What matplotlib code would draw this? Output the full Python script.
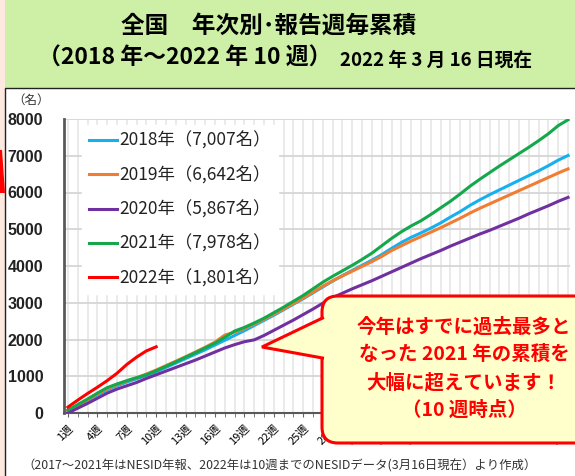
import matplotlib
matplotlib.use("Agg")
import matplotlib.pyplot as plt
from matplotlib.patches import Rectangle, FancyBboxPatch, Polygon

plt.rcParams['font.family'] = ['Noto Sans CJK JP', 'DejaVu Sans']

# weekly cumulative counts
weeks = list(range(1, 53))
y2018 = [50, 190, 340, 490, 630, 740, 840, 930, 1020, 1120,
         1240, 1360, 1480, 1600, 1720, 1850, 1980, 2110, 2240, 2380,
         2520, 2660, 2810, 2960, 3110, 3270, 3430, 3590, 3740, 3880,
         4020, 4160, 4310, 4480, 4640, 4780, 4900, 5030, 5170, 5330,
         5480, 5650, 5800, 5940, 6070, 6200, 6330, 6460, 6590, 6730,
         6880, 7007]
y2019 = [60, 210, 360, 520, 660, 770, 870, 960, 1060, 1170,
         1290, 1410, 1530, 1660, 1790, 1930, 2120, 2200, 2300, 2420,
         2550, 2690, 2830, 2980, 3130, 3290, 3450, 3600, 3730, 3860,
         3990, 4120, 4260, 4420, 4550, 4680, 4800, 4920, 5040, 5170,
         5300, 5440, 5570, 5690, 5810, 5930, 6050, 6170, 6290, 6410,
         6530, 6642]
y2020 = [0, 130, 260, 400, 540, 650, 740, 830, 940, 1040,
         1140, 1240, 1340, 1440, 1550, 1660, 1770, 1860, 1940, 1990,
         2110, 2250, 2390, 2530, 2680, 2830, 2990, 3140, 3260, 3380,
         3490, 3600, 3720, 3840, 3960, 4080, 4200, 4310, 4420, 4540,
         4650, 4760, 4870, 4970, 5080, 5190, 5300, 5420, 5530, 5640,
         5760, 5867]
y2021 = [80, 230, 380, 540, 690, 790, 880, 960, 1040, 1150,
         1270, 1390, 1520, 1640, 1770, 1900, 2060, 2230, 2330, 2450,
         2580, 2730, 2880, 3040, 3200, 3380, 3560, 3720, 3870, 4020,
         4180, 4350, 4550, 4750, 4930, 5090, 5230, 5400, 5580, 5760,
         5960, 6170, 6360, 6540, 6720, 6890, 7060, 7230, 7410, 7600,
         7820, 7978]
y2022 = [160, 350, 530, 700, 880, 1080, 1320, 1520, 1690, 1801]

labels = ['2018年（7,007名）', '2019年（6,642名）', '2020年（5,867名）',
          '2021年（7,978名）', '2022年（1,801名）']
colors = ['#17b0ef', '#f07d32', '#7030a0', '#14a84b', '#ff0000']
xtick_weeks = list(range(1, 53, 3))

W, H = 575, 476
fig = plt.figure(figsize=(W / 100, H / 100), dpi=100)
fig.patch.set_facecolor('#fde9df')

# background panels (pixel coords)
bg = fig.add_axes([0, 0, 1, 1], zorder=0)
bg.set_xlim(0, W)
bg.set_ylim(H, 0)
bg.axis('off')
bg.add_patch(Rectangle((5, 0), W - 5, 88, facecolor='#cdf0a6', edgecolor='none'))
bg.add_patch(Rectangle((5, 88), W, H, facecolor='white', edgecolor='#222222', lw=1))
bg.add_patch(Polygon([(0, 150), (2, 150), (5, 193), (0, 193)], facecolor='#ff0000', edgecolor='none'))

bg.text(269, 26, '全国　年次別･報告週毎累積', fontsize=17, fontweight='bold',
        ha='center', va='center')
bg.text(38, 58, '（2018 年～2022 年 10 週）', fontsize=16.5, fontweight='bold',
        ha='left', va='center')
bg.text(340, 60, '2022 年 3 月 16 日現在', fontsize=13.5, fontweight='bold',
        ha='left', va='center')
bg.text(31, 100, '（名）', fontsize=9, ha='center', va='center', color='#333333')

# chart
ax = fig.add_axes([64 / W, 1 - 413 / H, 506 / W, 294 / H], zorder=1)
ax.set_facecolor('none')
ax.set_xlim(0.6, 52.2)
ax.set_ylim(0, 8000)
for wk in weeks:
    ax.axvline(wk, color='#e6e6e6', lw=1.2, zorder=0)
for v in range(1000, 8001, 1000):
    ax.axhline(v, color='#d6d6d6', lw=1.3, zorder=0)

series = [y2018, y2019, y2020, y2021]
for vals, lab, col in zip(series, labels[:4], colors[:4]):
    ax.plot(weeks, vals, color=col, lw=2.2, label=lab, zorder=3)
ax.plot(weeks[:len(y2022)], y2022, color=colors[4], lw=2.2, label=labels[4], zorder=4)

ax.set_yticks(range(0, 8001, 1000))
ax.set_yticklabels([str(v) for v in range(0, 8001, 1000)],
                   fontfamily='Liberation Sans', fontweight='bold', fontsize=11.5)
ax.tick_params(axis='y', length=0, pad=15, colors='#222222')
ax.set_xticks(weeks, minor=True)
ax.set_xticks(xtick_weeks)
ax.set_xticklabels([f'{w}週' for w in xtick_weeks], rotation=45, ha='right',
                   rotation_mode='anchor', fontsize=8)
ax.tick_params(axis='x', which='both', length=3, color='#666666', pad=4)
for s in ['top', 'right']:
    ax.spines[s].set_visible(False)
ax.spines['left'].set_color('#595959')
ax.spines['left'].set_linewidth(2)
ax.spines['bottom'].set_color('#595959')
ax.spines['bottom'].set_linewidth(1.5)

leg = ax.legend(loc='upper left', bbox_to_anchor=(0.018, 1.01), fontsize=12.5,
                handlelength=1.6, handletextpad=0.15, labelspacing=0.93,
                frameon=True, framealpha=1, facecolor='white', edgecolor='white',
                borderpad=0.4)
for t in leg.get_texts():
    t.set_color('#222222')

# callout and footnote on top
top = fig.add_axes([0, 0, 1, 1], zorder=5)
top.set_xlim(0, W)
top.set_ylim(H, 0)
top.axis('off')
top.patch.set_alpha(0)
top.add_patch(FancyBboxPatch((322, 296), 300, 147, boxstyle='round,pad=0,rounding_size=16',
                             facecolor='#ffffcc', edgecolor='#ff0000', lw=2.2, zorder=1))
top.add_patch(Polygon([(326, 318), (262, 347), (326, 358)], closed=True,
                      facecolor='#ffffcc', edgecolor='none', zorder=2))
top.plot([322.5, 262, 322.5], [318, 347, 358], color='#ff0000', lw=2.2, zorder=3,
         solid_joinstyle='miter')

callout = ['今年はすでに過去最多と', 'なった 2021 年の累積を', '大幅に超えています！', '（10 週時点）']
for i, line in enumerate(callout):
    top.text(464, 327 + i * 27.7, line, color='#ff0000', fontsize=14, fontweight='bold',
             ha='center', va='center', zorder=4)

top.text(280, 466, '（2017～2021年はNESID年報、2022年は10週までのNESIDデータ(3月16日現在）より作成）',
         fontsize=8.9, ha='center', va='center', color='#333333')

fig.savefig('out.png', dpi=100, facecolor=fig.get_facecolor())
